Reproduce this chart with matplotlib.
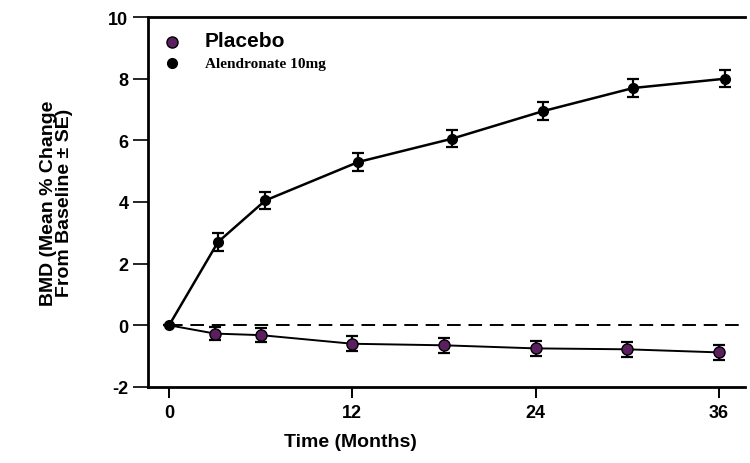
import matplotlib
matplotlib.use("Agg")
import matplotlib.pyplot as plt
from matplotlib.lines import Line2D

plt.rcParams['font.family'] = ['Liberation Sans', 'DejaVu Sans']
plt.rcParams['axes.unicode_minus'] = False

# data
placebo_months = [0, 3, 6, 12, 18, 24, 30, 36]
placebo_bmd = [0, -0.27, -0.32, -0.6, -0.65, -0.75, -0.78, -0.88]
placebo_se = [0, 0.22, 0.22, 0.25, 0.25, 0.25, 0.25, 0.25]

alen_months = [0, 3.2, 6.3, 12.4, 18.5, 24.5, 30.4, 36.4]
alen_bmd = [0, 2.7, 4.05, 5.3, 6.05, 6.95, 7.7, 8.0]
alen_se = [0, 0.3, 0.28, 0.28, 0.28, 0.28, 0.28, 0.28]

xticks = [0, 12, 24, 36]
yticks = [-2, 0, 2, 4, 6, 8, 10]

purple = '#5b1f5f'

fig = plt.figure(figsize=(7.5, 4.64), dpi=100)
ax = fig.add_axes([0.197, 0.164, 0.796, 0.797])

ax.hlines(0, placebo_months[0], 37.7, colors='black', linestyles=(0, (7, 4)), linewidth=1.4)

ax.errorbar(alen_months, alen_bmd, yerr=alen_se, color='black', marker='o',
            markersize=7, linewidth=1.8, elinewidth=1.6, capsize=4, capthick=1.6)
ax.errorbar(placebo_months[1:], placebo_bmd[1:], yerr=placebo_se[1:], color='black',
            marker='o', markersize=8, markerfacecolor=purple, markeredgecolor='black',
            linewidth=1.4, elinewidth=1.6, capsize=4, capthick=1.6, ls='none')
ax.plot(placebo_months, placebo_bmd, color='black', linewidth=1.4, zorder=1)

ax.set_xlim(-1.4, 37.7)
ax.set_ylim(-2, 10)
ax.set_xticks(xticks)
ax.set_yticks(yticks)
ax.tick_params(axis='x', direction='out', length=8, width=1.4, labelsize=13, pad=4)
ax.tick_params(axis='y', direction='out', length=11, width=1.2, labelsize=13, pad=3)
for lab in ax.get_xticklabels() + ax.get_yticklabels():
    lab.set_fontweight('bold')

for s in ['top', 'left', 'bottom']:
    ax.spines[s].set_linewidth(2)
ax.spines['right'].set_visible(False)

ax.set_xlabel('Time (Months)', fontsize=14, fontweight='bold')
ax.xaxis.set_label_coords(0.34, -0.125)
ax.set_ylabel('BMD (Mean % Change\nFrom Baseline \u00b1 SE)', fontsize=14,
              fontweight='bold', linespacing=0.95)
ax.yaxis.set_label_coords(-0.125, 0.5)

handles = [
    Line2D([], [], marker='o', ls='none', markersize=8, markerfacecolor=purple,
           markeredgecolor='black'),
    Line2D([], [], marker='o', ls='none', markersize=7, color='black'),
]
leg = ax.legend(handles, ['Placebo', 'Alendronate 10mg'], loc='upper left',
                frameon=False, bbox_to_anchor=(0.005, 0.995), handletextpad=1.8,
                labelspacing=0.5, handlelength=1.2)
t0, t1 = leg.get_texts()
t0.set_fontsize(15)
t0.set_fontweight('bold')
t1.set_family(['Liberation Serif', 'DejaVu Serif'])
t1.set_fontsize(11)
t1.set_fontweight('bold')

fig.savefig('out.png', dpi=100)
